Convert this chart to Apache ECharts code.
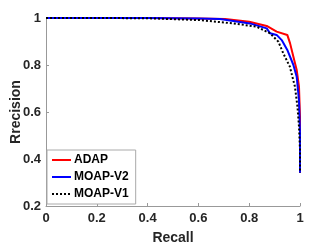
<!DOCTYPE html>
<html><head><meta charset="utf-8">
<script src="https://cdn.jsdelivr.net/npm/echarts@6/dist/echarts.min.js"></script>
<style>html,body{margin:0;padding:0;background:#fff}#c{width:332px;height:249px}</style>
</head><body><div id="c"></div>
<script>
const seriesNames = ['ADAP', 'MOAP-V2', 'MOAP-V1'];
const xTicks = [0, 0.2, 0.4, 0.6, 0.8, 1];
const yTicks = [0.2, 0.4, 0.6, 0.8, 1];
const adapRecall = [0, 0.2, 0.4, 0.6, 0.705, 0.80, 0.869, 0.908, 0.95, 0.961, 0.974, 0.987, 0.996, 1.0, 1.0];
const adapPrec   = [1, 1, 1, 0.998, 0.996, 0.984, 0.966, 0.942, 0.928, 0.892, 0.835, 0.779, 0.708, 0.58, 0.342];
const v2Recall = [0, 0.2, 0.4, 0.6, 0.685, 0.803, 0.869, 0.882, 0.908, 0.928, 0.95, 0.974, 0.987, 0.996, 1.0, 1.0];
const v2Prec   = [1, 1, 1, 0.998, 0.996, 0.977, 0.956, 0.935, 0.928, 0.906, 0.864, 0.80, 0.75, 0.65, 0.51, 0.342];
const v1Recall = [0, 0.2, 0.4, 0.606, 0.737, 0.829, 0.882, 0.915, 0.934, 0.96, 0.98, 0.99, 0.996, 1.0, 1.0];
const v1Prec   = [1, 1, 0.999, 0.991, 0.977, 0.963, 0.935, 0.899, 0.85, 0.793, 0.708, 0.623, 0.538, 0.44, 0.342];

const zip = (a, b) => a.map((v, i) => [v, b[i]]);
const font = 'Liberation Sans, Arial, sans-serif';
const chart = echarts.init(document.getElementById('c'));
const axisCommon = {
  axisLine: {lineStyle: {color: '#999', width: 1}},
  axisTick: {inside: true, length: 3, lineStyle: {color: '#999'}},
  splitLine: {show: false},
  nameMoveOverlap: false,
  axisLabel: {color: '#262626', fontWeight: 'bold', fontSize: 13, fontFamily: font},
  nameTextStyle: {color: '#262626', fontWeight: 'bold', fontSize: 14, fontFamily: font}
};
chart.setOption({
  animation: false,
  grid: {left: 46, right: 32, top: 18, bottom: 43, containLabel: false, outerBoundsMode: 'none'},
  legend: {
    left: 47, top: 150, orient: 'vertical',
    itemWidth: 19, itemHeight: 12, itemGap: 5,
    backgroundColor: '#fff', borderColor: '#aaa', borderWidth: 1,
    padding: [4, 7, 4, 4],
    itemStyle: {opacity: 0},
    textStyle: {color: '#000', fontWeight: 'bold', fontSize: 12, fontFamily: font, padding: [0, 0, 0, -2]},
    data: seriesNames
  },
  xAxis: Object.assign({}, axisCommon, {
    type: 'value', min: 0, max: 1, interval: 0.2,
    name: 'Recall', nameLocation: 'middle', nameGap: 25,
    axisLabel: Object.assign({}, axisCommon.axisLabel, {margin: 6,
      formatter: v => xTicks.includes(+v.toFixed(1)) ? String(+v.toFixed(1)) : ''})
  }),
  yAxis: Object.assign({}, axisCommon, {
    type: 'value', min: 0.2, max: 1, interval: 0.2,
    name: 'Rrecision', nameLocation: 'middle', nameGap: 23,
    axisLabel: Object.assign({}, axisCommon.axisLabel, {margin: 5,
      formatter: v => yTicks.includes(+v.toFixed(1)) ? String(+v.toFixed(1)) : ''})
  }),
  series: [
    {name: seriesNames[0], type: 'line', data: zip(adapRecall, adapPrec), showSymbol: false, symbol: 'none',
     lineStyle: {color: '#ff0000', width: 2}, itemStyle: {color: '#ff0000'}},
    {name: seriesNames[1], type: 'line', data: zip(v2Recall, v2Prec), showSymbol: false, symbol: 'none',
     lineStyle: {color: '#0000ff', width: 2}, itemStyle: {color: '#0000ff'}},
    {name: seriesNames[2], type: 'line', data: zip(v1Recall, v1Prec), showSymbol: false, symbol: 'none',
     lineStyle: {color: '#000', width: 2, type: [2, 2]}, itemStyle: {color: '#000'}}
  ]
});
</script></body></html>
